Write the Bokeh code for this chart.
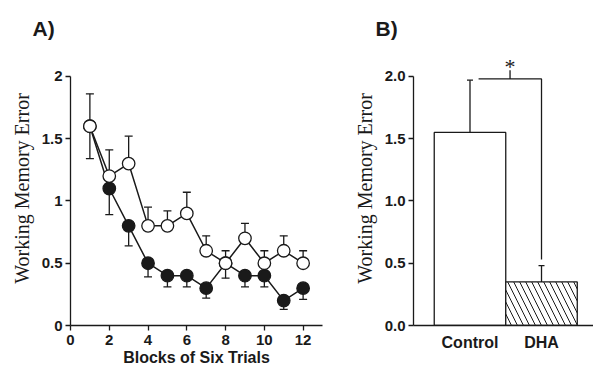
from bokeh.plotting import figure
from bokeh.models import Range1d, FixedTicker, Title, ColumnDataSource
from bokeh.layouts import row
from bokeh.embed import file_html
from bokeh.resources import INLINE
from bokeh.core.properties import value

# ---------------- data ----------------
blocks = [1, 2, 3, 4, 5, 6, 7, 8, 9, 10, 11, 12]
control_mean = [1.6, 1.2, 1.3, 0.8, 0.8, 0.9, 0.6, 0.5, 0.7, 0.5, 0.6, 0.5]
control_upper = [1.86, 1.41, 1.52, 0.95, 0.92, 1.07, 0.72, 0.60, 0.82, 0.60, 0.72, 0.60]
dha_mean = [1.6, 1.1, 0.8, 0.5, 0.4, 0.4, 0.3, 0.5, 0.4, 0.4, 0.2, 0.3]
dha_lower = [1.34, 0.89, 0.64, 0.39, 0.31, 0.31, 0.22, 0.38, 0.31, 0.31, 0.13, 0.21]

x_ticks_a = [0, 2, 4, 6, 8, 10, 12]
y_ticks = [0, 0.5, 1, 1.5, 2]
y_labels_a = ["0", "0.5", "1", "1.5", "2"]
y_labels_b = ["0.0", "0.5", "1.0", "1.5", "2.0"]

groups = ["Control", "DHA"]
group_mean = [1.55, 0.35]
group_upper = [1.97, 0.48]

bracket_y = 1.98
bracket_left_offset = 0.12
bracket_drop = 0.53
star_y = 1.98

INK = "#1a1a1a"
SANS = "Liberation Sans"
SERIF = "Liberation Serif"


def style_axes(p, ylabels):
    p.outline_line_color = None
    p.grid.visible = False
    for ax in (p.xaxis[0], p.yaxis[0]):
        ax.axis_line_color = INK
        ax.axis_line_width = 1.3
        ax.major_tick_line_color = INK
        ax.major_tick_line_width = 1.3
        ax.major_tick_in = 0
        ax.major_tick_out = 5
        ax.minor_tick_line_color = None
        ax.major_label_text_font = SANS
        ax.major_label_text_font_style = "bold"
        ax.major_label_text_font_size = "15px"
        ax.major_label_text_color = INK
        ax.major_label_standoff = 3
    ya = p.yaxis[0]
    ya.ticker = FixedTicker(ticks=y_ticks)
    ya.major_label_overrides = {t: l for t, l in zip(y_ticks, ylabels)}
    ya.bounds = (y_ticks[0], y_ticks[-1])
    ya.axis_label = "Working Memory Error"
    ya.axis_label_text_font = SERIF
    ya.axis_label_text_font_style = "normal"
    ya.axis_label_text_font_size = "20px"
    ya.axis_label_text_color = INK
    ya.axis_label_standoff = 6


def add_panel_title(p, text, offset):
    p.add_layout(Title(text=text, text_font=SANS, text_font_style="bold",
                       text_font_size="21px", text_color=INK, align="left",
                       offset=offset, standoff=24), "above")


# ---------------- panel A ----------------
pa = figure(width=345, height=382, x_range=Range1d(0, 13), y_range=Range1d(0, 2.2),
            output_backend="svg", toolbar_location=None,
            min_border_left=70, min_border_right=23, min_border_top=51, min_border_bottom=57)
style_axes(pa, y_labels_a)
xa = pa.xaxis[0]
xa.ticker = FixedTicker(ticks=x_ticks_a)
xa.major_label_standoff = 4
xa.axis_label = "Blocks of Six Trials"
xa.axis_label_text_font = SANS
xa.axis_label_text_font_style = "bold"
xa.axis_label_text_font_size = "16px"
xa.axis_label_text_color = INK
xa.axis_label_standoff = 1

src_c = ColumnDataSource(dict(x=blocks, m=control_mean, e=control_upper))
src_d = ColumnDataSource(dict(x=blocks, m=dha_mean, e=dha_lower))

pa.line("x", "m", source=src_c, line_color=INK, line_width=1.5)
pa.line("x", "m", source=src_d, line_color=INK, line_width=1.5)
for s in (src_c, src_d):
    pa.segment(x0="x", y0="m", x1="x", y1="e", source=s, line_color=INK, line_width=1.3)
    pa.scatter("x", "e", source=s, marker="dash", size=8, line_color=INK, line_width=1.3)
pa.scatter("x", "m", source=src_d, marker="circle", size=12.5, fill_color=INK, line_color=INK, line_width=1.3)
pa.scatter("x", "m", source=src_c, marker="circle", size=12.5, fill_color="white", line_color=INK, line_width=1.3)
add_panel_title(pa, "A)", -38)

# ---------------- panel B ----------------
gx = list(range(len(groups)))
pb = figure(width=248, height=382, x_range=Range1d(-0.79, 1.727), y_range=Range1d(0, 2.2),
            output_backend="svg", toolbar_location=None,
            min_border_left=68, min_border_right=0, min_border_top=51, min_border_bottom=57)
style_axes(pb, y_labels_b)
xb = pb.xaxis[0]
xb.ticker = FixedTicker(ticks=gx)
xb.major_label_overrides = {i: g for i, g in zip(gx, groups)}
xb.major_tick_line_color = None
xb.major_tick_out = 0
xb.major_label_standoff = 8
xb.major_label_text_font_size = "16px"

src_b = ColumnDataSource(dict(x=gx, m=group_mean, e=group_upper,
                              hatch=["", "\\"]))
pb.vbar(x="x", top="m", width=1.0, source=src_b, fill_color="white", line_color=INK,
        line_width=1.3, hatch_pattern="hatch", hatch_color=INK, hatch_scale=12, hatch_weight=1)
pb.segment(x0="x", y0="m", x1="x", y1="e", source=src_b, line_color=INK, line_width=1.3)
pb.scatter("x", "e", source=src_b, marker="dash", size=6, line_color=INK, line_width=1.3)

bl = gx[0] + bracket_left_offset
br = gx[1]
pb.line(x=[bl, br, br], y=[bracket_y, bracket_y, bracket_drop], line_color=INK, line_width=1.3)
mid = (bl + br) / 2
pb.segment(x0=[mid], y0=[bracket_y], x1=[mid], y1=[bracket_y + 0.07], line_color=INK, line_width=1.3)
pb.text(x=[mid], y=[star_y], text=["*"], text_font=value(SERIF), text_font_size="22px",
        text_align="center", text_baseline="bottom", text_color=INK)
add_panel_title(pb, "B)", -38)

layout = row(pa, pb)
open("out.html", "w").write(file_html(layout, INLINE))
